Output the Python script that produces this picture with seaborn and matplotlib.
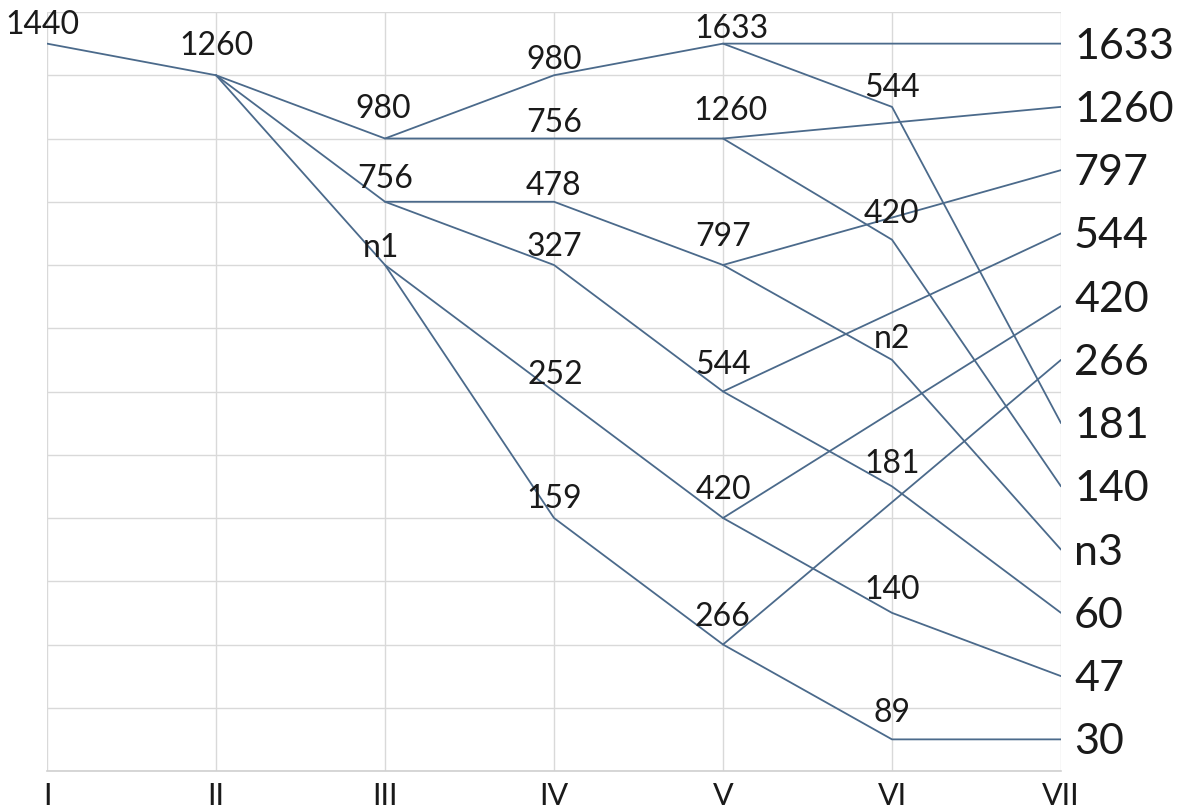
import matplotlib
matplotlib.use("Agg")
import matplotlib.pyplot as plt
import seaborn as sns
import pandas as pd

# ---- data ----
stages = ["I", "II", "III", "IV", "V", "VI", "VII"]

node_stage = [0, 1, 2, 2, 2, 3, 3, 3, 3, 3, 3,
              4, 4, 4, 4, 4, 4,
              5, 5, 5, 5, 5, 5,
              6, 6, 6, 6, 6, 6, 6, 6, 6, 6, 6, 6]
node_level = [11.5, 11, 10, 9, 8, 11, 10, 9, 8, 6, 4,
              11.5, 10, 8, 6, 4, 2,
              10.5, 8.4, 6.5, 4.5, 2.5, 0.5,
              11.5, 10.5, 9.5, 8.5, 7.35, 6.5, 5.5, 4.5, 3.5, 2.5, 1.5, 0.5]
node_label = ["1440", "1260", "980", "756", "n1", "980", "756", "478", "327", "252", "159",
              "1633", "1260", "797", "544", "420", "266",
              "544", "420", "n2", "181", "140", "89",
              "1633", "1260", "797", "544", "420", "266", "181", "140", "n3", "60", "47", "30"]

paths = [
    [0, 1],
    [1, 2, 5, 11, 23],
    [11, 17, 29],
    [2, 6, 12, 24],
    [12, 18, 30],
    [1, 3, 7, 13, 25],
    [13, 19, 31],
    [3, 8, 14, 26],
    [14, 20, 32],
    [1, 4, 9, 15, 27],
    [15, 21, 33],
    [4, 10, 16, 28],
    [16, 22, 34],
]

# label placement (pixels: dx, dy above node) for inner nodes
label_offsets = [(-5, 10), (0, 20), (-2, 21), (0, 14), (-4, 8), (0, 6), (0, 7), (0, 7),
                 (0, 9), (1, 8), (0, 10), (8, 6), (8, 18), (0, 19), (0, 18), (0, 19),
                 (-1, 18), (0, 10), (0, 17), (0, 12), (0, 13), (0, 14), (0, 17)]
# vertical nudge (pixels) for the right-hand labels, in order of the last column
right_label_dy = [-3, -3, -3, -3, 6, -3, -3, -3, -3, -3, -3, -3]

rows = []
for pid, p in enumerate(paths):
    for order, n in enumerate(p):
        rows.append({"path": pid, "order": order,
                     "stage": node_stage[n], "level": node_level[n]})
df = pd.DataFrame(rows)

# ---- plot ----
sns.set_theme(style="whitegrid")
plt.rcParams["font.family"] = ["Lato", "DejaVu Sans"]

fig = plt.figure(figsize=(11.82, 8.1), dpi=100)
ax = fig.add_axes([47 / 1182, 39 / 810, (1061 - 47) / 1182, (771 - 12) / 810])

line_color = "#4b6a8b"
sns.lineplot(data=df, x="stage", y="level", units="path", estimator=None, sort=False,
             color=line_color, linewidth=1.3, ax=ax, legend=False)

ax.set_xlim(0, 6)
ax.set_ylim(0, 12)
ax.set_xticks(range(len(stages)))
ax.set_xticklabels(stages, fontsize=22, color="#1a1a1a")
ax.set_yticks(range(13))
ax.set_yticklabels([])
ax.set_xlabel("")
ax.set_ylabel("")
ax.tick_params(axis="x", length=0, pad=8)
ax.tick_params(axis="y", length=0)
ax.grid(True, color="#d9d9d9", linewidth=1.0)
ax.set_facecolor("white")
for side in ["left", "right", "top"]:
    ax.spines[side].set_visible(False)
ax.spines["bottom"].set_color("#d0d0d0")
ax.spines["bottom"].set_linewidth(1.2)

last = len(stages) - 1
k = 0
for i, (s, lv, lab) in enumerate(zip(node_stage, node_level, node_label)):
    if s == last:
        ax.annotate(lab, xy=(s, lv), xytext=(13, right_label_dy[k]), textcoords="offset pixels",
                    ha="left", va="center", fontsize=31, color="#1a1a1a",
                    annotation_clip=False)
        k += 1
    else:
        dx, dy = label_offsets[i]
        ax.annotate(lab, xy=(s, lv), xytext=(dx, dy), textcoords="offset pixels",
                    ha="center", va="baseline", fontsize=23, color="#1a1a1a",
                    annotation_clip=False)

fig.savefig("out.png", dpi=100)
